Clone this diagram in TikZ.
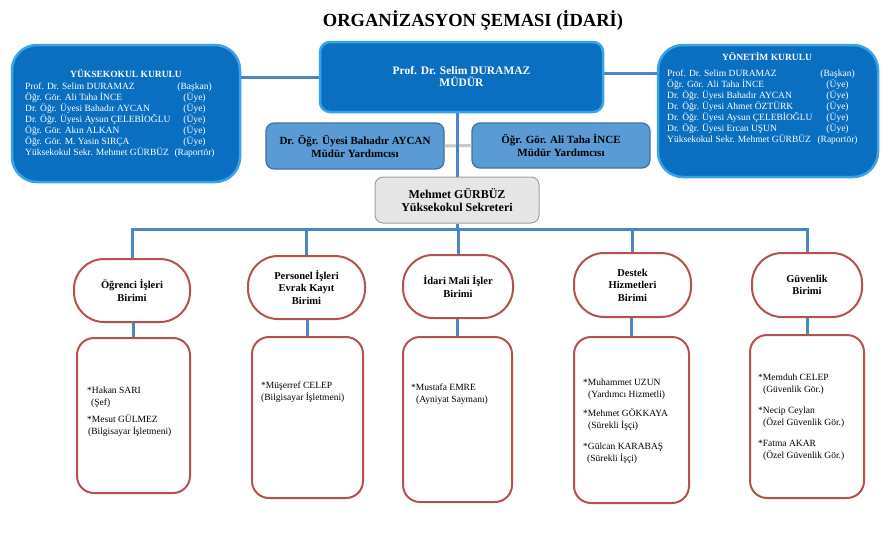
\documentclass[tikz,border=0pt]{standalone}
\usepackage{fontspec}
\setmainfont{Liberation Serif}
\usetikzlibrary{positioning}
\definecolor{cblue}{HTML}{0A6FC0}
\definecolor{cbluebd}{HTML}{3AA3E6}
\definecolor{casst}{HTML}{5B9BD5}
\definecolor{casstbd}{HTML}{41719C}
\definecolor{csec}{HTML}{E6E6E6}
\definecolor{csecbd}{HTML}{A0A0A0}
\definecolor{cred}{HTML}{B5524F}
\definecolor{cline}{HTML}{4A86C8}
\definecolor{cgray}{HTML}{C9C9C9}
\tikzset{
  kurul/.style={draw=cbluebd, fill=cblue, line width=2.5pt, rounded corners=25pt, inner sep=0pt},
  mudur/.style={draw=cbluebd, fill=cblue, line width=2.5pt, rounded corners=10pt, inner sep=0pt, text=white, align=center, font=\fontsize{11.5}{12}\selectfont\bfseries},
  asst/.style={draw=casstbd, fill=casst, line width=1.2pt, rounded corners=8pt, inner sep=0pt, align=center, font=\fontsize{11}{13}\selectfont\bfseries},
  secbox/.style={draw=csecbd, fill=csec, line width=1pt, rounded corners=8pt, inner sep=0pt, align=center, font=\fontsize{12}{13}\selectfont\bfseries},
  unit/.style={draw=cred, fill=white, line width=2pt, rounded corners=30pt, inner sep=0pt, align=center, font=\fontsize{10.5}{12.5}\selectfont\bfseries},
  staff/.style={draw=cred, fill=white, line width=2pt, rounded corners=17pt, inner sep=0pt},
  listtext/.style={inner sep=0pt, anchor=base west, font=\fontsize{9.5}{12}\selectfont},
  kurultext/.style={inner sep=0pt, anchor=base west, text=white, font=\fontsize{9.5}{11}\selectfont},
  kurulhead/.style={inner sep=0pt, anchor=base, text=white, font=\fontsize{9.5}{11}\selectfont\bfseries},
  conn/.style={draw=cline, line width=3pt},
  grayconn/.style={draw=cgray, line width=3pt}
}
\begin{document}
\begin{tikzpicture}[x=1pt,y=-1pt]
\useasboundingbox[fill=white] (0,0) rectangle (890,557);

% title
\node[inner sep=0pt, font=\fontsize{18.5}{20}\selectfont\bfseries] (title) at (473,21) {ORGANİZASYON ŞEMASI (İDARİ)};

% committees
\node[kurul, minimum width=228pt, minimum height=137pt] (lk) at (126,113.5) {};
\node[kurulhead] (lkh) at (126,77.5) {YÜKSEKOKUL KURULU};
\node[kurultext] (lkt) at (25,89.5) {\begin{tabular}[t]{@{}l@{\hspace{4pt}}c@{}}
Prof. Dr. Selim DURAMAZ & (Başkan)\\
Öğr. Gör. Ali Taha İNCE & (Üye)\\
Dr. Öğr. Üyesi Bahadır AYCAN & (Üye)\\
Dr. Öğr. Üyesi Aysun ÇELEBİOĞLU & (Üye)\\
Öğr. Gör. Akın ALKAN & (Üye)\\
Öğr. Gör. M. Yasin SIRÇA & (Üye)\\
Yüksekokul Sekr. Mehmet GÜRBÜZ & (Raportör)
\end{tabular}};

\node[kurul, minimum width=220pt, minimum height=132pt] (yk) at (768,111) {};
\node[kurulhead] (ykh) at (767,60.5) {YÖNETİM KURULU};
\node[kurultext] (ykt) at (667,76.5) {\begin{tabular}[t]{@{}l@{\hspace{5pt}}c@{}}
Prof. Dr. Selim DURAMAZ & (Başkan)\\
Öğr. Gör. Ali Taha İNCE & (Üye)\\
Dr. Öğr. Üyesi Bahadır AYCAN & (Üye)\\
Dr. Öğr. Üyesi Ahmet ÖZTÜRK & (Üye)\\
Dr. Öğr. Üyesi Aysun ÇELEBİOĞLU & (Üye)\\
Dr. Öğr. Üyesi Ercan UŞUN & (Üye)\\
Yüksekokul Sekr. Mehmet GÜRBÜZ & (Raportör)
\end{tabular}};

% director
\node[mudur, minimum width=283pt, minimum height=70pt] (dir) at (461.5,77) {Prof. Dr. Selim DURAMAZ\\MÜDÜR};

% assistants
\node[asst, minimum width=178pt, minimum height=46pt] (asl) at (355,146) {Dr. Öğr. Üyesi Bahadır AYCAN\\Müdür Yardımcısı};
\node[asst, minimum width=178pt, minimum height=45pt] (asr) at (561,145.5) {Öğr. Gör. Ali Taha İNCE\\Müdür Yardımcısı};

% secretary
\node[secbox, minimum width=164pt, minimum height=46pt] (sec) at (457,200) {Mehmet GÜRBÜZ\\Yüksekokul Sekreteri};

% units
\node[unit, minimum width=116pt, minimum height=63pt] (u1) at (132,290.5) {Öğrenci İşleri\\Birimi};
\node[unit, minimum width=117pt, minimum height=63pt] (u2) at (306.5,287.5) {Personel İşleri\\Evrak Kayıt\\Birimi};
\node[unit, minimum width=110pt, minimum height=63pt] (u3) at (458,286.5) {İdari Mali İşler\\Birimi};
\node[unit, minimum width=117pt, minimum height=64pt] (u4) at (632.5,285) {Destek\\Hizmetleri\\Birimi};
\node[unit, minimum width=110pt, minimum height=64pt] (u5) at (807,285) {Güvenlik\\Birimi};

% staff boxes
\node[staff, minimum width=113pt, minimum height=155pt] (b1) at (133.5,415.5) {};
\node[staff, minimum width=111pt, minimum height=161pt] (b2) at (307.5,417.5) {};
\node[staff, minimum width=109pt, minimum height=165pt] (b3) at (457.5,419.5) {};
\node[staff, minimum width=115pt, minimum height=166pt] (b4) at (631.5,420) {};
\node[staff, minimum width=114pt, minimum height=163pt] (b5) at (807,416.5) {};

\node[listtext] (t1) at (87,393.5) {\begin{tabular}[t]{@{}l@{}}
*Hakan SARI\\
\hspace{4pt}(Şef)\\[5pt]
*Mesut GÜLMEZ\\
\hspace{1pt}(Bilgisayar İşletmeni)
\end{tabular}};
\node[listtext] (t2) at (261,388.5) {\begin{tabular}[t]{@{}l@{}}
*Müşerref CELEP\\
(Bilgisayar İşletmeni)
\end{tabular}};
\node[listtext] (t3) at (411,390.5) {\begin{tabular}[t]{@{}l@{}}
*Mustafa EMRE\\
\hspace{5pt}(Ayniyat Saymanı)
\end{tabular}};
\node[listtext] (t4) at (583,385.5) {\begin{tabular}[t]{@{}l@{}}
*Muhammet UZUN\\
\hspace{5pt}(Yardımcı Hizmetli)\\[7pt]
*Mehmet GÖKKAYA\\
\hspace{5pt}(Sürekli İşçi)\\[9pt]
*Gülcan KARABAŞ\\
\hspace{4pt}(Sürekli İşçi)
\end{tabular}};
\node[listtext] (t5) at (758,380.5) {\begin{tabular}[t]{@{}l@{}}
*Memduh CELEP\\
\hspace{5pt}(Güvenlik Gör.)\\[9pt]
*Necip Ceylan\\
\hspace{5pt}(Özel Güvenlik Gör.)\\[9pt]
*Fatma AKAR\\
\hspace{5pt}(Özel Güvenlik Gör.)
\end{tabular}};

% connectors
\coordinate (bus) at (457,229);
\draw[conn] (dir.west) -- (dir.west -| lk.east);
\draw[conn] ([yshift=4pt]dir.east) -- ([yshift=4pt]dir.east -| yk.west);
\draw[grayconn] (asl.east) -- (asr.west);
\draw[conn] (sec.north) -- (sec.north |- dir.south);
\draw[conn] (sec.south) -- (sec.south |- bus);
\draw[conn] (u1.north) -- (u1.north |- bus) -- (u5.north |- bus) -- (u5.north);
\draw[conn] (u2.north) -- (u2.north |- bus);
\draw[conn] (u3.north) -- (u3.north |- bus);
\draw[conn] (u4.north) -- (u4.north |- bus);
\draw[conn] (b1.north) -- (b1.north |- u1.south);
\draw[conn] (b2.north) -- (b2.north |- u2.south);
\draw[conn] (b3.north) -- (b3.north |- u3.south);
\draw[conn] (b4.north) -- (b4.north |- u4.south);
\draw[conn] (b5.north) -- (b5.north |- u5.south);
\end{tikzpicture}
\end{document}
